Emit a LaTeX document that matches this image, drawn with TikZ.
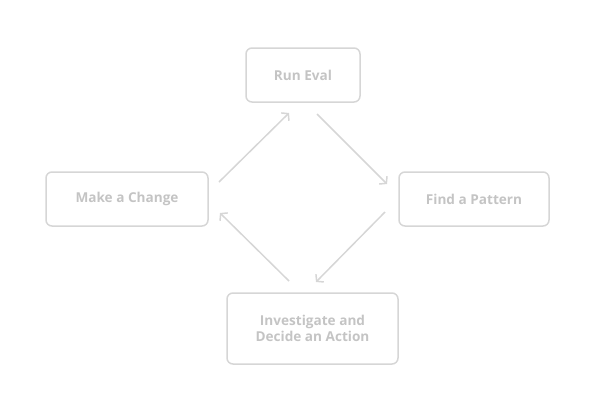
\documentclass[tikz,border=0pt]{standalone}
\usepackage{fontspec}
\setmainfont{Open Sans}
\usepackage{tikz}
\usetikzlibrary{arrows.meta}
\definecolor{boxgray}{HTML}{D6D6D6}
\definecolor{textgray}{HTML}{C4C4C4}
\tikzstyle{stepbox} = [rectangle, rounded corners=6pt,
line width=1.5pt,
draw=boxgray,
text=textgray,
font=\bfseries\fontsize{13.6}{16.5}\selectfont,
align=center,
inner sep=0pt]
\tikzstyle{arrow} = [line width=1.5pt, draw=boxgray, -{Straight Barb[length=4.5pt,width=11pt,line width=1.5pt]}]

\begin{document}
\begin{tikzpicture}[x=1pt,y=-1pt]
\useasboundingbox (0,0) rectangle (595,413);
\node (run) [stepbox, minimum width=114pt, minimum height=54pt] at (303,75) {Run Eval};
\node (find) [stepbox, minimum width=150pt, minimum height=54pt] at (474,199) {Find a Pattern};
\node (invest) [stepbox, minimum width=171pt, minimum height=71pt] at (312.5,328.5) {Investigate and\\Decide an Action};
\node (change) [stepbox, minimum width=162pt, minimum height=54pt] at (127,199) {Make a Change};

% arrow ends
\coordinate (c1) at (219,182);
\coordinate (r1) at (289,113);
\coordinate (r2) at (317,114);
\coordinate (f1) at (387,184);
\coordinate (f2) at (385,212);
\coordinate (i1) at (316,282);
\coordinate (i2) at (289,281);
\coordinate (c2) at (220,213);

\draw [arrow] (c1) -- (r1);
\draw [arrow] (r2) -- (f1);
\draw [arrow] (f2) -- (i1);
\draw [arrow] (i2) -- (c2);
\end{tikzpicture}
\end{document}
